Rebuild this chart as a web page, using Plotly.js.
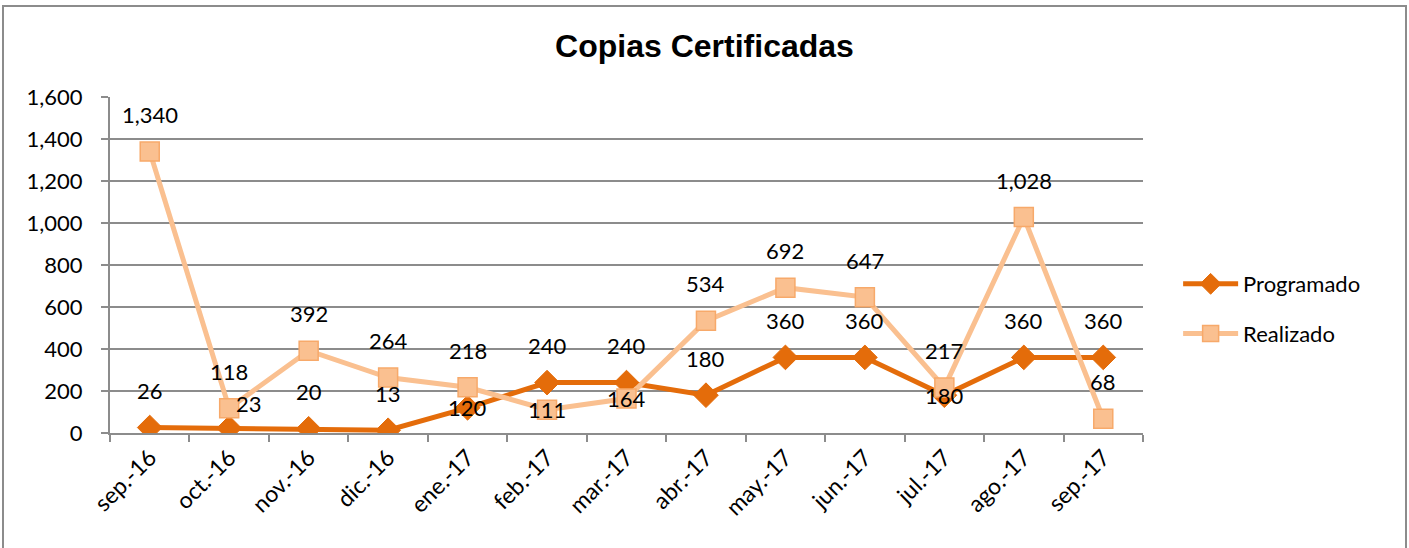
<!DOCTYPE html>
<html>
<head>
<meta charset="utf-8">
<script src="https://cdn.plot.ly/plotly-3.0.1.min.js"></script>
<style>
  html, body { margin: 0; padding: 0; background: #ffffff; }
  #chart { width: 1409px; height: 548px; }
  #frame { position: absolute; left: 2px; top: 5px; width: 1401px; height: 600px;
           border: 2px solid #8c8c8c; pointer-events: none; }
</style>
</head>
<body>
<div id="chart"></div>
<div id="frame"></div>
<script>
// ---- data ----
const categories = ['sep.-16','oct.-16','nov.-16','dic.-16','ene.-17','feb.-17','mar.-17',
                    'abr.-17','may.-17','jun.-17','jul.-17','ago.-17','sep.-17'];
const programado = [26, 23, 20, 13, 120, 240, 240, 180, 360, 360, 180, 360, 360];
const realizado  = [1340, 118, 392, 264, 218, 111, 164, 534, 692, 647, 217, 1028, 68];
const seriesNames = ['Programado', 'Realizado'];
const yTicks = [0, 200, 400, 600, 800, 1000, 1200, 1400, 1600];

// label placement per point: 'a' above, 'c' centred on point, 'r' right-above
const progLabelPos = ['a','r','a','a','c','a','a','a','a','a','c','a','a'];
const realLabelPos = ['a','a','a','a','a','c','c','a','a','a','a','a','a'];

const FONT = 'Lato, "Open Sans", sans-serif';
const fmt = v => v.toLocaleString('en-US');

const traces = [
  {
    x: categories, y: programado, name: seriesNames[0], type: 'scatter', mode: 'lines+markers',
    line: { color: '#E46C0A', width: 5 },
    marker: { symbol: 'diamond', size: 19, color: '#E46C0A', line: { color: '#E46C0A', width: 1 } },
    legendgroup: 'g1'
  },
  {
    x: categories, y: realizado, name: seriesNames[1], type: 'scatter', mode: 'lines+markers',
    line: { color: '#FAC090', width: 5 },
    marker: { symbol: 'square', size: 19, color: '#FAC090', line: { color: '#F7A96A', width: 1.5 } },
    legendgroup: 'g2'
  }
];

function shiftFor(pos) {
  if (pos === 'c') return { xshift: 0, yshift: 0 };
  if (pos === 'r') return { xshift: 20, yshift: 25 };
  return { xshift: 0, yshift: 37 };
}
const annotations = [];
[[programado, progLabelPos], [realizado, realLabelPos]].forEach(([vals, pos]) => {
  vals.forEach((v, i) => {
    const s = shiftFor(pos[i]);
    annotations.push({
      x: categories[i], y: v, xref: 'x', yref: 'y', text: fmt(v), showarrow: false,
      xshift: s.xshift, yshift: s.yshift,
      font: { family: FONT, size: 22, color: '#000000' }
    });
  });
});

const layout = {
  width: 1409, height: 548,
  margin: { l: 110, r: 266, t: 97, b: 115 },
  paper_bgcolor: '#ffffff', plot_bgcolor: '#ffffff',
  title: { text: 'Copias Certificadas', x: 0.5, xref: 'container', xanchor: 'center',
           y: 1 - 46/548, yref: 'container', yanchor: 'middle',
           font: { family: '"Liberation Sans", Arial, sans-serif', size: 32, color: '#000000', weight: 'bold' } },
  xaxis: {
    type: 'category', range: [-0.5, 12.5], tickson: 'boundaries',
    ticks: 'outside', ticklen: 7, tickcolor: '#8c8c8c', tickwidth: 2,
    showline: true, linecolor: '#8c8c8c', linewidth: 2, showgrid: false, zeroline: false,
    tickangle: -45, tickfont: { family: FONT, size: 23, color: '#000000' }
  },
  yaxis: {
    range: [0, 1600], tickvals: yTicks, tickformat: ',',
    ticks: 'outside', ticklen: 7, tickcolor: '#8c8c8c', tickwidth: 2,
    showline: true, linecolor: '#8c8c8c', linewidth: 2,
    showgrid: true, gridcolor: '#8c8c8c', gridwidth: 1.5, zeroline: false,
    ticklabelstandoff: 14,
    tickfont: { family: FONT, size: 22, color: '#000000' }
  },
  showlegend: true,
  legend: {
    x: 1.034, xanchor: 'left', y: 0.369, yanchor: 'middle',
    traceorder: 'grouped', tracegroupgap: 18, itemwidth: 55,
    font: { family: FONT, size: 22, color: '#000000' }, bgcolor: 'rgba(0,0,0,0)'
  },
  annotations: annotations
};

Plotly.newPlot('chart', traces, layout, { displayModeBar: false, staticPlot: true });
</script>
</body>
</html>
